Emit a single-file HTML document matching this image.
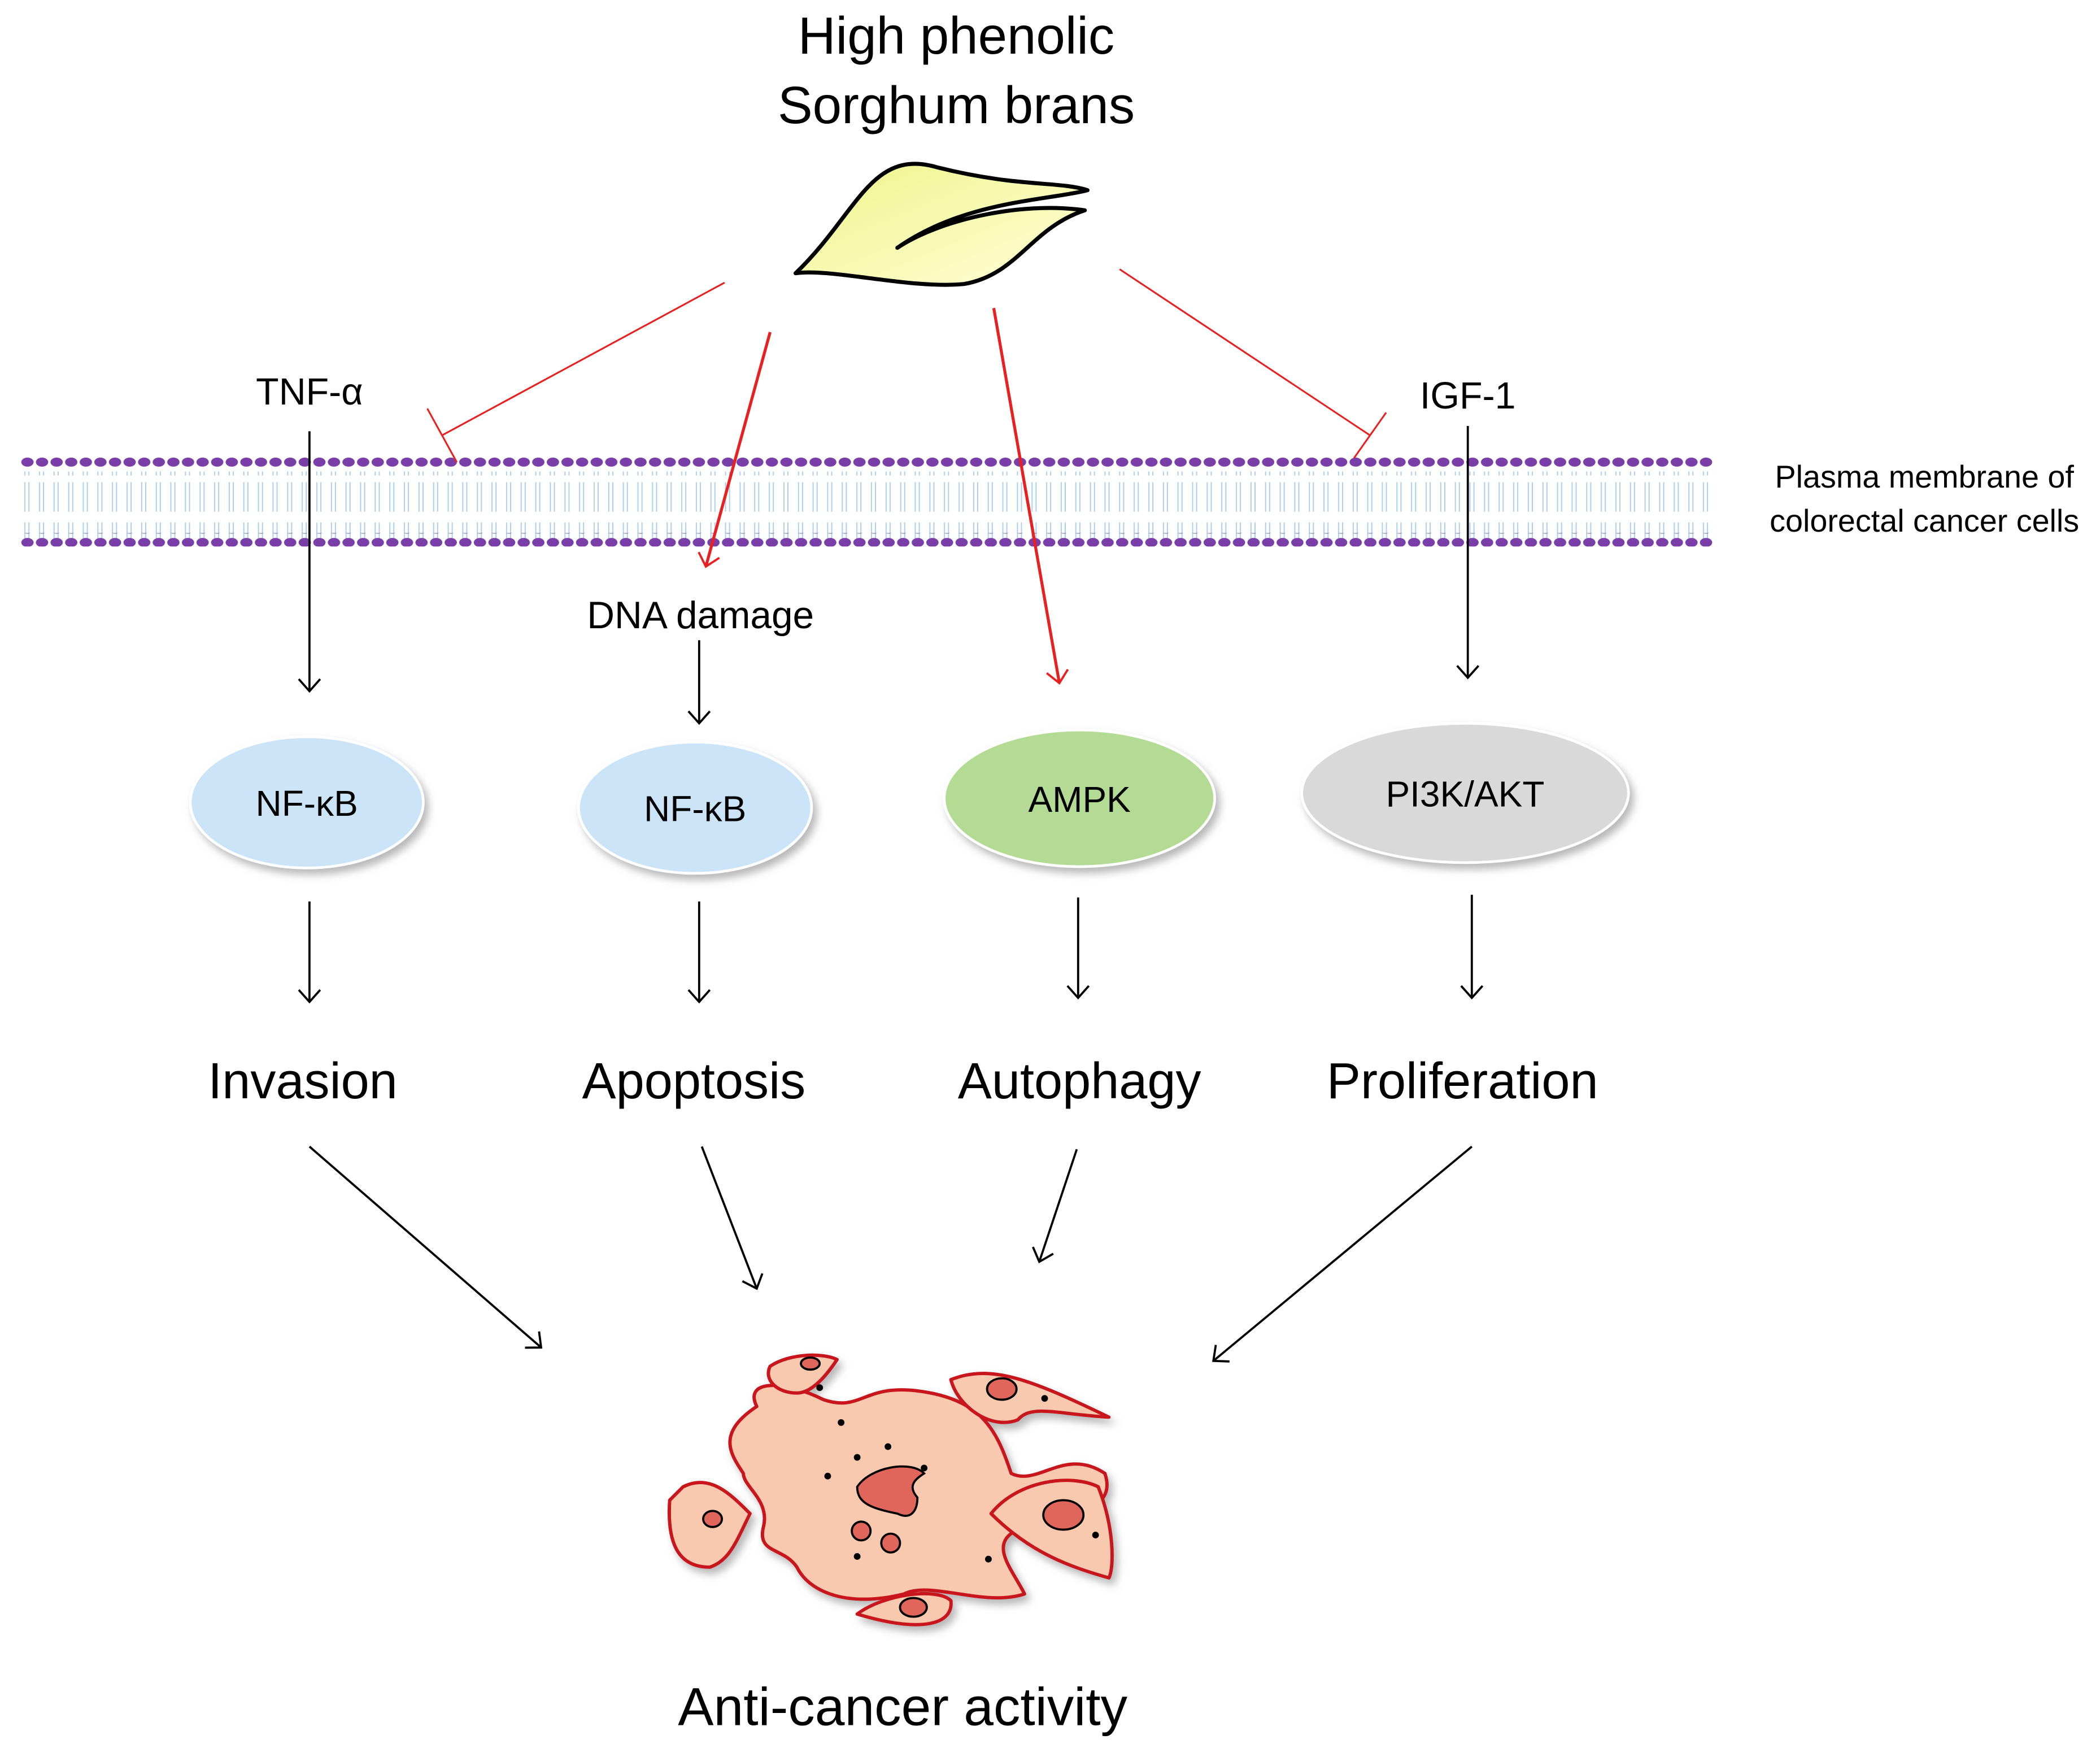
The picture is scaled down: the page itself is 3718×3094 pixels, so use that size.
<!DOCTYPE html>
<html><head><meta charset="utf-8"><style>
html,body{margin:0;padding:0;background:#fff}
svg{display:block}
text{font-family:"Liberation Sans","DejaVu Sans",sans-serif;fill:#000}
</style></head><body>
<svg width="3718" height="3094" viewBox="0 0 1568 1305" xmlns="http://www.w3.org/2000/svg">
<defs>
<marker id="ab" markerWidth="20" markerHeight="20" refX="10" refY="10" orient="auto" markerUnits="userSpaceOnUse"><path d="M1,2 L10,10 L1,18" fill="none" stroke="#000" stroke-width="1.6"/></marker>
<marker id="ar" markerWidth="20" markerHeight="20" refX="10" refY="10" orient="auto" markerUnits="userSpaceOnUse"><path d="M1,2 L10,10 L1,18" fill="none" stroke="#e8201f" stroke-width="1.6"/></marker>
<linearGradient id="lg" x1="0" y1="0" x2="1" y2="1"><stop offset="0" stop-color="#eef58a"/><stop offset="1" stop-color="#ffffd8"/></linearGradient>
<filter id="sh"><feDropShadow dx="3" dy="4" stdDeviation="3" flood-color="#888" flood-opacity="0.6"/></filter>
<pattern id="heads" x="15" y="0" width="10.9" height="10" patternUnits="userSpaceOnUse"><ellipse cx="5.4" cy="5" rx="4.6" ry="3.4" fill="#7a3ea8"/></pattern>
<pattern id="tails" x="15" y="0" width="10.9" height="60" patternUnits="userSpaceOnUse"><path d="M3.5,0 V22 M6.5,0 V22 M3.5,30 V55 M6.5,30 V55" stroke="#a8cdee" stroke-width="0.8"/></pattern>
</defs>

<text x="714" y="40" font-size="39" text-anchor="middle">High phenolic</text>
<text x="714" y="92" font-size="39" text-anchor="middle">Sorghum brans</text>

<!-- leaf -->
<path d="M594,204 C640,160 650,110 700,125 C760,140 790,135 812,142 C780,150 720,150 670,185 C700,165 760,150 810,157 C770,170 760,205 720,212 C680,216 620,200 594,204 Z" fill="url(#lg)" stroke="#000" stroke-width="3" stroke-linejoin="round"/>

<!-- membrane -->
<rect x="15" y="352" width="1265" height="50" fill="url(#tails)"/>
<rect x="15" y="340" width="1265" height="10" fill="url(#heads)"/>
<rect x="15" y="398" width="1265" height="10" fill="url(#heads)"/>
<text x="1437" y="364" font-size="23.5" text-anchor="middle">Plasma membrane of</text>
<text x="1437" y="397" font-size="23.5" text-anchor="middle">colorectal cancer cells</text>

<!-- inhibition lines -->
<path d="M541,211 L330,325" stroke="#e8201f" stroke-width="1.3" fill="none"/>
<path d="M319,305 L341,345" stroke="#e8201f" stroke-width="1.3"/>
<path d="M836,201 L1023,325" stroke="#e8201f" stroke-width="1.3" fill="none"/>
<path d="M1035,308 L1011,342" stroke="#e8201f" stroke-width="1.3"/>
<!-- red arrows -->
<path d="M575,248 L527,423" stroke="#e8201f" stroke-width="2.2" marker-end="url(#ar)"/>
<path d="M742,230 L791,510" stroke="#e8201f" stroke-width="2.2" marker-end="url(#ar)"/>

<text x="231" y="302" font-size="28" text-anchor="middle">TNF-α</text>
<text x="1096" y="305" font-size="28" text-anchor="middle">IGF-1</text>
<text x="523" y="469" font-size="28.5" text-anchor="middle">DNA damage</text>

<g stroke="#000" stroke-width="1.6" fill="none">
<path d="M231,322 V516" marker-end="url(#ab)"/>
<path d="M1096,318 V506" marker-end="url(#ab)"/>
<path d="M522,478 V540" marker-end="url(#ab)"/>
<path d="M231,673 V748" marker-end="url(#ab)"/>
<path d="M522,673 V748" marker-end="url(#ab)"/>
<path d="M805,670 V745" marker-end="url(#ab)"/>
<path d="M1099,668 V745" marker-end="url(#ab)"/>
<path d="M231,856 L404,1006" marker-end="url(#ab)"/>
<path d="M524,856 L565,962" marker-end="url(#ab)"/>
<path d="M804,858 L776,942" marker-end="url(#ab)"/>
<path d="M1099,856 L906,1016" marker-end="url(#ab)"/>
</g>

<!-- ellipses -->
<g filter="url(#sh)">
<ellipse cx="229" cy="599" rx="87" ry="49" fill="#cce4f7" stroke="#fff" stroke-width="2"/>
<ellipse cx="519" cy="603" rx="87" ry="49" fill="#cce4f7" stroke="#fff" stroke-width="2"/>
<ellipse cx="806" cy="596" rx="101" ry="51" fill="#b3db93" stroke="#fff" stroke-width="2"/>
<ellipse cx="1094" cy="592" rx="122" ry="52" fill="#d9d9d9" stroke="#fff" stroke-width="2"/>
</g>
<text x="229" y="609" font-size="27" text-anchor="middle">NF-κB</text>
<text x="519" y="613" font-size="27" text-anchor="middle">NF-κB</text>
<text x="806" y="606" font-size="27" text-anchor="middle">AMPK</text>
<text x="1094" y="602" font-size="27" text-anchor="middle">PI3K/AKT</text>

<text x="226" y="820" font-size="38" text-anchor="middle">Invasion</text>
<text x="518" y="820" font-size="38" text-anchor="middle">Apoptosis</text>
<text x="806" y="820" font-size="38" text-anchor="middle">Autophagy</text>
<text x="1092" y="820" font-size="38" text-anchor="middle">Proliferation</text>

<!-- cancer cells -->
<g filter="url(#sh)" fill="#f8c9ae" stroke="#c8161d" stroke-width="2.5" stroke-linejoin="round">
<path d="M570,1060 C560,1040 590,1040 620,1055 C650,1065 650,1040 700,1050 C740,1058 750,1080 760,1110 C780,1120 800,1090 830,1110 C840,1140 800,1140 770,1150 C740,1160 760,1180 770,1200 C740,1210 700,1190 680,1200 C640,1210 610,1200 600,1180 C590,1165 570,1170 575,1150 C580,1130 560,1120 560,1110 C550,1095 540,1080 570,1060 Z" transform="translate(-5,-10)"/>
<path d="M575,1020 C590,1010 615,1010 625,1015 C615,1030 605,1040 595,1040 C580,1040 570,1030 575,1020 Z"/>
<path d="M710,1030 C740,1018 770,1030 828,1058 C790,1056 770,1048 760,1060 C740,1068 715,1050 710,1030 Z"/>
<path d="M510,1110 C530,1100 545,1115 560,1130 C550,1150 545,1165 530,1170 C505,1170 498,1150 500,1120 Z"/>
<path d="M740,1130 C760,1105 800,1100 820,1110 C832,1140 832,1170 828,1178 C800,1170 770,1160 740,1130 Z"/>
<path d="M640,1205 C660,1190 700,1185 710,1195 C712,1212 690,1220 640,1205 Z"/>
</g>
<g fill="#e0655a" stroke="#000" stroke-width="1.6">
<path d="M640,1110 C650,1095 680,1090 690,1100 C682,1105 678,1110 685,1118 C685,1128 680,1135 670,1130 C650,1126 640,1122 640,1110 Z"/>
<ellipse cx="605" cy="1018" rx="7" ry="4.5"/>
<ellipse cx="748" cy="1037" rx="11" ry="8"/>
<ellipse cx="532" cy="1134" rx="7" ry="6"/>
<ellipse cx="794" cy="1131" rx="15" ry="11"/>
<ellipse cx="682" cy="1200" rx="10" ry="7"/>
<circle cx="643" cy="1143" r="7"/>
<circle cx="665" cy="1152" r="7"/>
</g>
<g fill="#000">
<circle cx="612" cy="1036" r="2.5"/><circle cx="780" cy="1044" r="2.5"/>
<circle cx="628" cy="1062" r="2.5"/><circle cx="663" cy="1080" r="2.5"/>
<circle cx="640" cy="1088" r="2.5"/><circle cx="690" cy="1096" r="2.5"/>
<circle cx="618" cy="1102" r="2.5"/><circle cx="640" cy="1162" r="2.5"/>
<circle cx="738" cy="1164" r="2.5"/><circle cx="818" cy="1146" r="2.5"/>
</g>

<text x="674" y="1288" font-size="40" text-anchor="middle">Anti-cancer activity</text>
</svg>
</body></html>
